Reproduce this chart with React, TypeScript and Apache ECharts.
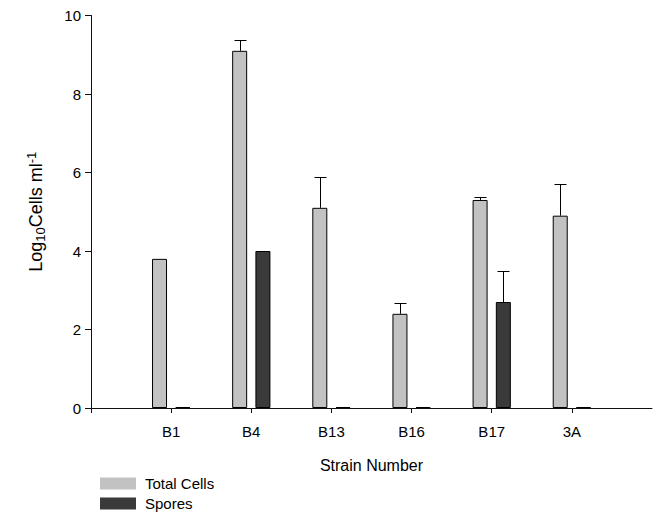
import React, { useEffect, useRef } from "react";
import * as echarts from "echarts";

const categories = ["", "B1", "B4", "B13", "B16", "B17", "3A", ""];
const strains = ["B1", "B4", "B13", "B16", "B17", "3A"];
const totalCells = [3.8, 9.1, 5.1, 2.4, 5.3, 4.9];
const totalErr = [0, 0.27, 0.78, 0.28, 0.07, 0.8];
const spores = [0, 4.0, 0, 0, 2.7, 0];
const sporesErr = [0, 0, 0, 0, 0.8, 0];
const yTicks = [0, 2, 4, 6, 8, 10];
const legendNames = ["Total Cells", "Spores"];

const FONT = "'Liberation Sans', Arial, sans-serif";
const BAR_W = 15;
const GAP = 0.55;

export default function App() {
  const ref = useRef<HTMLDivElement>(null);
  useEffect(() => {
    if (!ref.current) return;
    const chart = echarts.init(ref.current, null, { renderer: "svg" });
    const pad = (arr: number[]) => [null, ...arr, null];
    const off = (BAR_W + BAR_W * GAP) / 2;
    const errData = (vals: number[], errs: number[]) =>
      vals
        .map((v, i) => [i + 1, v, v + errs[i], errs[i]])
        .filter((d) => d[3] > 0);
    const errSeries = (name: string, vals: number[], errs: number[], dx: number) => ({
      type: "custom",
      name: name + " err",
      z: 5,
      data: errData(vals, errs),
      encode: { x: 0, y: 1 },
      renderItem: (params: any, api: any) => {
        const x = api.value(0);
        const base = api.coord([x, api.value(1)]);
        const top = api.coord([x, api.value(2)]);
        const cx = Math.round(base[0] + dx) + 0.5;
        const ty = Math.round(top[1]) + 0.5;
        return {
          type: "group",
          children: [
            { type: "line", shape: { x1: cx, y1: base[1], x2: cx, y2: ty }, style: { stroke: "#000", lineWidth: 1 } },
            { type: "line", shape: { x1: cx - 6, y1: ty, x2: cx + 6, y2: ty }, style: { stroke: "#000", lineWidth: 1 } },
          ],
        };
      },
    });
    const legendFor = (name: string, top: number) => ({
      orient: "horizontal",
      left: 100,
      top,
      padding: 0,
      itemWidth: 36,
      itemHeight: 12,
      icon: "rect",
      data: [name],
      itemStyle: { borderWidth: 0 },
      textStyle: { fontFamily: FONT, fontSize: 15, color: "#000", padding: [0, 0, 0, 4] },
    });
    chart.setOption({
      animation: false,
      backgroundColor: "#fff",
      textStyle: { fontFamily: FONT, color: "#000" },
      grid: { left: 91, top: 15.5, right: 5, bottom: 104, containLabel: false },
      legend: [legendFor(legendNames[0], 476), legendFor(legendNames[1], 496)],
      xAxis: {
        type: "category",
        data: categories,
        boundaryGap: false,
        name: "Strain Number",
        nameLocation: "middle",
        nameGap: 49,
        nameTextStyle: { fontFamily: FONT, fontSize: 16, color: "#000" },
        axisLine: { lineStyle: { color: "#111", width: 1 } },
        axisTick: {
          length: 5,
          lineStyle: { color: "#111" },
          interval: (i: number) => i < categories.length - 1,
        },
        axisLabel: {
          fontFamily: FONT,
          fontSize: 15,
          color: "#000",
          margin: 16,
          interval: 0,
          formatter: (v: string) => (strains.includes(v) ? v : ""),
        },
        splitLine: { show: false },
      },
      yAxis: {
        type: "value",
        min: yTicks[0],
        max: yTicks[yTicks.length - 1],
        interval: 2,
        name: "{a|Log}{b|10}{a|Cells ml}{c|-1}",
        nameLocation: "middle",
        nameGap: 44,
        nameRotate: 90,
        nameTextStyle: {
          fontFamily: FONT,
          color: "#000",
          rich: {
            a: { fontFamily: FONT, fontSize: 18, lineHeight: 22, verticalAlign: "middle", color: "#000" },
            b: { fontFamily: FONT, fontSize: 13, lineHeight: 10, verticalAlign: "bottom", color: "#000" },
            c: { fontFamily: FONT, fontSize: 13, lineHeight: 10, verticalAlign: "top", color: "#000" },
          },
        },
        axisLine: { show: true, lineStyle: { color: "#111", width: 1 } },
        axisTick: { show: true, length: 6, lineStyle: { color: "#111" } },
        axisLabel: { fontFamily: FONT, fontSize: 15, color: "#000", margin: 10 },
        splitLine: { show: false },
      },
      series: [
        {
          type: "bar",
          name: legendNames[0],
          data: pad(totalCells),
          barWidth: BAR_W,
          barGap: GAP * 100 + "%",
          barMinHeight: 1,
          itemStyle: { color: "#c2c2c2", borderColor: "#000", borderWidth: 1 },
        },
        {
          type: "bar",
          name: legendNames[1],
          data: pad(spores),
          barWidth: BAR_W,
          barGap: GAP * 100 + "%",
          barMinHeight: 1,
          itemStyle: { color: "#3a3a3a", borderColor: "#000", borderWidth: 1 },
        },
        errSeries(legendNames[0], totalCells, totalErr, -off),
        errSeries(legendNames[1], spores, sporesErr, off),
      ],
    });
    return () => chart.dispose();
  }, []);
  return <div ref={ref} style={{ width: 657, height: 512, position: "absolute", left: 0, top: 0 }} />;
}
